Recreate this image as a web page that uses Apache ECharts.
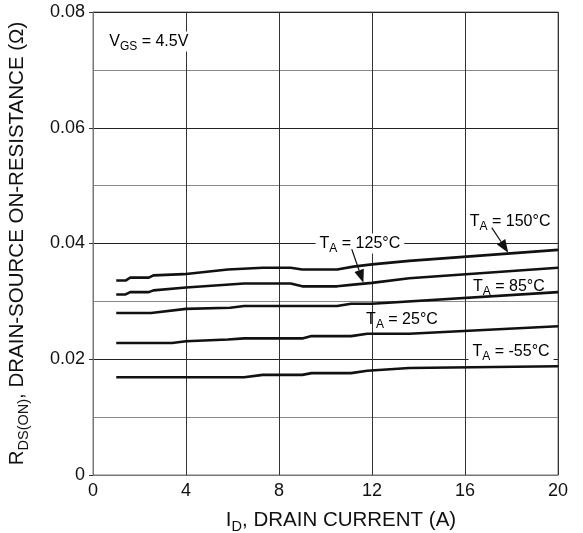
<!DOCTYPE html>
<html><head><meta charset="utf-8">
<script src="https://cdn.jsdelivr.net/npm/echarts@6/dist/echarts.min.js"></script>
<style>html,body{margin:0;padding:0;background:#fff}#c{width:583px;height:533px}</style>
</head><body><div id="c"></div>
<script>
// Drain current (A) and on-resistance (ohm) per temperature
const id150 = [1.0, 1.4, 1.6, 2.4, 2.6, 3.9, 5.8, 7.3, 8.5, 9.0, 10.5, 11.2, 12.0, 13.6, 20.0];
const r150  = [0.0336, 0.0336, 0.0341, 0.0341, 0.0345, 0.0347, 0.0355, 0.0358, 0.0358, 0.0355, 0.0355, 0.0360, 0.0364, 0.0370, 0.0389];
const id125 = [1.0, 1.4, 1.6, 2.4, 2.6, 4.0, 6.5, 8.5, 9.0, 10.5, 11.2, 12.0, 13.6, 20.0];
const r125  = [0.0312, 0.0312, 0.0316, 0.0316, 0.0319, 0.0324, 0.0331, 0.0331, 0.0326, 0.0326, 0.0329, 0.0332, 0.0340, 0.0358];
const id85  = [1.0, 2.5, 4.0, 5.9, 6.5, 10.5, 11.1, 12.0, 20.0];
const r85   = [0.0280, 0.0280, 0.0287, 0.0289, 0.0292, 0.0292, 0.0296, 0.0296, 0.0316];
const id25  = [1.0, 3.4, 4.0, 5.8, 6.5, 9.0, 9.4, 11.1, 11.8, 13.6, 20.0];
const r25   = [0.0228, 0.0228, 0.0231, 0.0234, 0.0236, 0.0236, 0.0240, 0.0240, 0.0244, 0.0244, 0.0257];
const idm55 = [1.0, 6.5, 7.3, 9.0, 9.4, 11.1, 11.8, 13.6, 20.0];
const rm55  = [0.0169, 0.0169, 0.0173, 0.0173, 0.0176, 0.0176, 0.0180, 0.0185, 0.0188];
const xTicks = [0, 4, 8, 12, 16, 20];
const yTicks = [0, 0.02, 0.04, 0.06, 0.08];
const tempLabels = ['150', '125', '85', '25', '-55'];

const FONT = 'Liberation Sans, Arial, sans-serif';
const zip = (a, b) => a.map((v, i) => [v, b[i]]);
const chart = echarts.init(document.getElementById('c'), null, {renderer: 'canvas'});

const seriesData = [zip(id150, r150), zip(id125, r125), zip(id85, r85), zip(id25, r25), zip(idm55, rm55)];
const titleRich = {
  m: {fontFamily: FONT, fontSize: 20.5, color: '#111', lineHeight: 28},
  s: {fontFamily: FONT, fontSize: 14.5, color: '#111', lineHeight: 14, padding: [14, 0, 0, 0]}
};

chart.setOption({
  animation: false,
  backgroundColor: '#fff',
  grid: {left: 93, right: 25, top: 12, bottom: 58, show: true, borderColor: '#777', borderWidth: 1,
    outerBoundsMode: 'none', containLabel: false},
  xAxis: {
    type: 'value', min: xTicks[0], max: xTicks[xTicks.length - 1], interval: 4,
    name: '{m|I}{s|D}{m|, DRAIN CURRENT (A)}', nameLocation: 'middle', nameGap: 31,
    nameTextStyle: {rich: titleRich, padding: [0, 0, 0, 31]},
    axisLine: {show: true, lineStyle: {color: '#777', width: 1}},
    axisTick: {show: false},
    axisLabel: {fontFamily: FONT, fontSize: 18, color: '#111', margin: 7},
    splitLine: {show: true, lineStyle: {color: '#333', width: 1}}
  },
  yAxis: {
    type: 'value', min: yTicks[0], max: yTicks[yTicks.length - 1], interval: 0.02,
    name: '{m|R}{s|DS(ON)}{m|, DRAIN-SOURCE ON-RESISTANCE (Ω)}', nameLocation: 'middle', nameGap: 62,
    nameTextStyle: {rich: titleRich},
    axisLine: {show: true, lineStyle: {color: '#777', width: 1}},
    axisTick: {show: true, length: 4, lineStyle: {color: '#333'}},
    axisLabel: {fontFamily: FONT, fontSize: 18, color: '#111', margin: 8,
      formatter: v => (v === 0 ? '0' : v.toFixed(2))},
    splitLine: {show: true, lineStyle: {color: '#222', width: 1}},
    minorTick: {show: false, splitNumber: 2},
    minorSplitLine: {show: true, lineStyle: {color: '#888', width: 1}}
  },
  series: seriesData.map((d, i) => ({
    type: 'line', name: tempLabels[i], data: d, symbol: 'none', smooth: false,
    lineStyle: {color: '#111', width: 2.6}, z: 5
  }))
});

// Annotations positioned from data coordinates
const P = (x, y) => chart.convertToPixel({gridIndex: 0}, [x, y]);
const rich = {
  m: {fontFamily: FONT, fontSize: 16, color: '#111', lineHeight: 20},
  s: {fontFamily: FONT, fontSize: 12, color: '#111', lineHeight: 11, padding: [10, 0, 0, 0]}
};
function label(x, y, txt, bg) {
  const p = P(x, y);
  return {type: 'text', x: p[0], y: p[1], z: 20,
    style: {text: txt, rich: rich, align: 'center', verticalAlign: 'middle',
      backgroundColor: bg ? '#fff' : 'transparent', padding: bg ? [0, 4] : 0}};
}
function arrow(x1, y1, x2, y2) {
  const a = P(x1, y1), b = P(x2, y2);
  const dx = b[0] - a[0], dy = b[1] - a[1], L = Math.hypot(dx, dy);
  const ux = dx / L, uy = dy / L, hl = 13, hw = 5;
  const bx = b[0] - ux * hl, by = b[1] - uy * hl;
  return [
    {type: 'line', z: 21, shape: {x1: a[0], y1: a[1], x2: bx, y2: by}, style: {stroke: '#111', lineWidth: 1.2}},
    {type: 'polygon', z: 21, shape: {points: [[b[0], b[1]], [bx - uy * hw, by + ux * hw], [bx + uy * hw, by - ux * hw]]},
      style: {fill: '#111'}}
  ];
}
const graphics = [
  label(2.4, 0.0749, '{m|V}{s|GS}{m| = 4.5V}', true),
  label(17.94, 0.04385, '{m|T}{s|A}{m| = 150°C}', false),
  label(11.48, 0.0400, '{m|T}{s|A}{m| = 125°C}', true),
  label(17.89, 0.03258, '{m|T}{s|A}{m| = 85°C}', false),
  label(13.29, 0.02686, '{m|T}{s|A}{m| = 25°C}', false),
  label(17.98, 0.02132, '{m|T}{s|A}{m| = -55°C}', true),
  ...arrow(17.15, 0.04275, 17.86, 0.03842),
  ...arrow(11.13, 0.0390, 11.63, 0.03322)
];
chart.setOption({graphic: graphics});
</script></body></html>
